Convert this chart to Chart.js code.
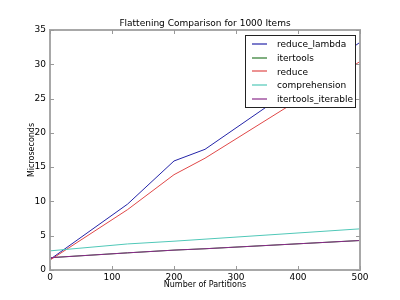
<!DOCTYPE html>
<html>
<head>
<meta charset="utf-8">
<script src="https://cdn.jsdelivr.net/npm/chart.js@4.4.1/dist/chart.umd.min.js"></script>
<style>
  html, body { margin: 0; padding: 0; background: #fff; }
  #wrap { width: 400px; height: 300px; }
</style>
</head>
<body>
<div id="wrap"><canvas id="myChart" width="400" height="300"></canvas></div>
<script>
// number of partitions
const partitions = [1, 125, 200, 250, 500];

// microseconds per series
const reduceLambda = [1.6, 9.6, 15.9, 17.6, 33.2];
const itertools = [1.8, 2.5, 2.9, 3.1, 4.3];
const reduce = [1.5, 8.8, 13.9, 16.3, 30.4];
const comprehension = [2.8, 3.8, 4.2, 4.5, 6.0];
const itertoolsIterable = [1.8, 2.5, 2.9, 3.1, 4.3];

const seriesNames = ['reduce_lambda', 'itertools', 'reduce', 'comprehension', 'itertools_iterable'];
const seriesColors = ['#2424a8', '#2a7a2a', '#e04848', '#50c8b8', '#8a2a8a'];

const FONT = 'DejaVu Sans';

function pts(ys) {
  return partitions.map((x, i) => ({ x: x, y: ys[i] }));
}

// matplotlib-like frame, inward ticks, titles and legend
const framePlugin = {
  id: 'frame',
  afterDraw(chart) {
    const { ctx, chartArea: a, scales: { x, y } } = chart;
    ctx.save();
    ctx.strokeStyle = '#a8a8a8';
    ctx.lineWidth = 2;
    ctx.strokeRect(a.left, a.top, a.right - a.left, a.bottom - a.top);

    ctx.lineWidth = 1;
    ctx.strokeStyle = '#999';
    x.ticks.forEach(t => {
      const px = Math.round(x.getPixelForValue(t.value)) + 0.5;
      ctx.beginPath();
      ctx.moveTo(px, a.bottom); ctx.lineTo(px, a.bottom - 4);
      ctx.moveTo(px, a.top); ctx.lineTo(px, a.top + 4);
      ctx.stroke();
    });
    y.ticks.forEach(t => {
      const py = Math.round(y.getPixelForValue(t.value)) + 0.5;
      ctx.beginPath();
      ctx.moveTo(a.left, py); ctx.lineTo(a.left + 4, py);
      ctx.moveTo(a.right, py); ctx.lineTo(a.right - 4, py);
      ctx.stroke();
    });

    // title
    ctx.fillStyle = '#000';
    ctx.font = '9px ' + FONT;
    ctx.textAlign = 'center';
    ctx.textBaseline = 'alphabetic';
    ctx.fillText('Flattening Comparison for 1000 Items', (a.left + a.right) / 2, 26);

    // axis titles
    ctx.font = '8px ' + FONT;
    ctx.textBaseline = 'middle';
    ctx.fillText('Number of Partitions', (a.left + a.right) / 2, a.bottom + 15);
    ctx.save();
    ctx.translate(a.left - 18, (a.top + a.bottom) / 2);
    ctx.rotate(-Math.PI / 2);
    ctx.fillText('Microseconds', 0, 0);
    ctx.restore();

    // legend
    const lx = 245, ly = 35, lw = 110, lh = 72;
    ctx.fillStyle = '#fff';
    ctx.fillRect(lx, ly, lw, lh);
    ctx.strokeStyle = '#222';
    ctx.lineWidth = 1;
    ctx.strokeRect(lx + 0.5, ly + 0.5, lw, lh);
    ctx.font = '9px ' + FONT;
    ctx.textAlign = 'left';
    ctx.textBaseline = 'middle';
    seriesNames.forEach((name, i) => {
      const yy = ly + 9 + i * 13.7;
      ctx.strokeStyle = seriesColors[i];
      ctx.lineWidth = 1.2;
      ctx.beginPath();
      ctx.moveTo(lx + 7, Math.round(yy));
      ctx.lineTo(lx + 22, Math.round(yy));
      ctx.stroke();
      ctx.fillStyle = '#000';
      ctx.fillText(name, lx + 32, yy + 1);
    });
    ctx.restore();
  }
};

new Chart(document.getElementById('myChart'), {
  type: 'line',
  data: {
    datasets: seriesNames.map((name, i) => ({
      label: name,
      data: pts([reduceLambda, itertools, reduce, comprehension, itertoolsIterable][i]),
      borderColor: seriesColors[i],
      borderWidth: 1,
      pointRadius: 0,
      tension: 0,
      fill: false,
      order: seriesNames.length - i // later series on top, like matplotlib
    }))
  },
  options: {
    responsive: false,
    animation: false,
    layout: { padding: { top: 30, right: 40, left: 0, bottom: 0 } },
    plugins: {
      legend: { display: false },
      tooltip: { enabled: false }
    },
    scales: {
      x: {
        type: 'linear',
        min: 0,
        max: 500,
        ticks: { stepSize: 100, color: '#000', font: { family: FONT, size: 9 }, padding: 2, maxRotation: 0 },
        grid: { display: false, drawTicks: false },
        border: { display: false },
        afterFit(s) { s.height = 30; }
      },
      y: {
        min: 0,
        max: 35,
        ticks: { stepSize: 5, color: '#000', font: { family: FONT, size: 9 }, padding: 4 },
        grid: { display: false, drawTicks: false },
        border: { display: false },
        afterFit(s) { s.width = 50; }
      }
    }
  },
  plugins: [framePlugin]
});
</script>
</body>
</html>
